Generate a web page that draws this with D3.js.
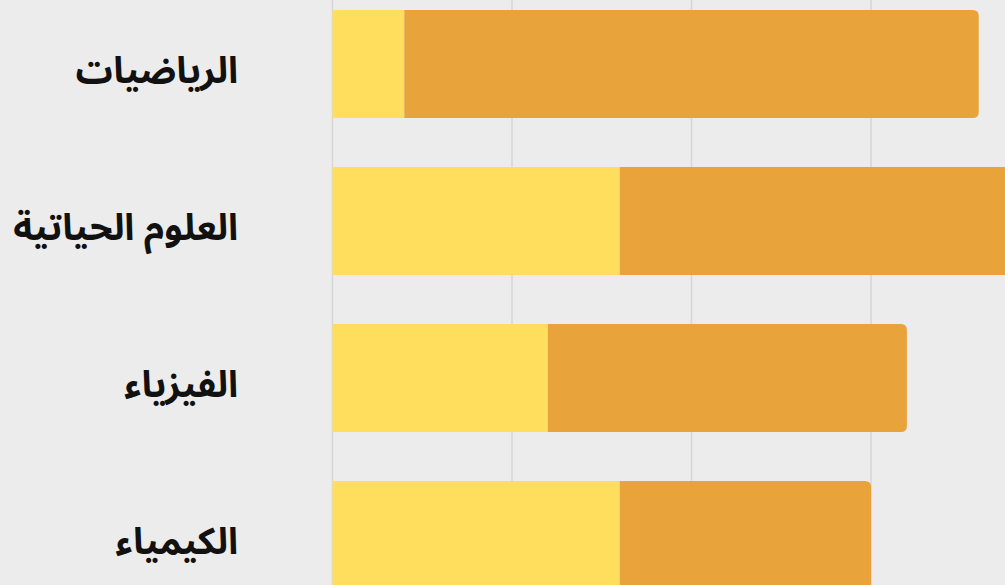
<!DOCTYPE html>
<html>
<head>
<meta charset="utf-8">
<script src="https://cdn.jsdelivr.net/npm/d3@7"></script>
<style>
  body { margin: 0; background: #ececec; }
  svg { display: block; }
</style>
</head>
<body>
<svg width="1005" height="585"></svg>
<script>
// subjects, top to bottom
var subjects = ["الرياضيات", "العلوم الحياتية", "الفيزياء", "الكيمياء"];
// two stacked parts per bar
var firstPart = [4, 16, 12, 16];
var secondPart = [32, 24, 20, 14];
var gridTicks = [0, 10, 20, 30, 40];

var svg = d3.select("svg"),
    width = +svg.attr("width"),
    height = +svg.attr("height");

var rows = subjects.map(function(s, i) {
  return {name: s, a: firstPart[i], b: secondPart[i]};
});

// x: 0 sits at 332.5, 10 units per ~179.5px
var x = d3.scaleLinear()
    .domain([0, 40])
    .range([332.5, 332.5 + 4 * 179.5]);

var y = d3.scaleBand()
    .domain(subjects)
    .range([-14.5, 613.5])
    .paddingInner(0.312)
    .paddingOuter(0.156);

var g = svg.append("g");

// grid lines
g.append("g")
  .selectAll("line")
  .data(gridTicks)
  .enter().append("line")
    .attr("x1", function(d) { return x(d); })
    .attr("x2", function(d) { return x(d); })
    .attr("y1", 0)
    .attr("y2", height)
    .attr("stroke", "#d6d6d6")
    .attr("stroke-width", 1.5);

// path with rounded right end only
function rightRounded(x0, y0, w, h, r) {
  r = Math.min(r, w, h / 2);
  return "M" + x0 + "," + y0 +
    "H" + (x0 + w - r) +
    "Q" + (x0 + w) + "," + y0 + " " + (x0 + w) + "," + (y0 + r) +
    "V" + (y0 + h - r) +
    "Q" + (x0 + w) + "," + (y0 + h) + " " + (x0 + w - r) + "," + (y0 + h) +
    "H" + x0 + "Z";
}

var bars = g.append("g")
  .selectAll("g")
  .data(rows)
  .enter().append("g");

bars.append("rect")
    .attr("x", x(0))
    .attr("y", function(d) { return y(d.name); })
    .attr("width", function(d) { return x(d.a) - x(0); })
    .attr("height", y.bandwidth())
    .attr("fill", "#ffdd5d");

bars.append("path")
    .attr("d", function(d) {
      return rightRounded(x(d.a), y(d.name), x(d.a + d.b) - x(d.a), y.bandwidth(), 6);
    })
    .attr("fill", "#e8a33a");

// labels
g.append("g")
  .selectAll("text")
  .data(rows)
  .enter().append("text")
    .attr("x", 238)
    .attr("y", function(d) { return y(d.name) + y.bandwidth() / 2; })
    .attr("dy", "0.52em")
    .attr("text-anchor", "end")
    .attr("font-family", "Noto Sans Arabic, DejaVu Sans, sans-serif")
    .attr("font-weight", "bold")
    .attr("font-size", 37)
    .attr("fill", "#111")
    .text(function(d) { return d.name; });
</script>
</body>
</html>
